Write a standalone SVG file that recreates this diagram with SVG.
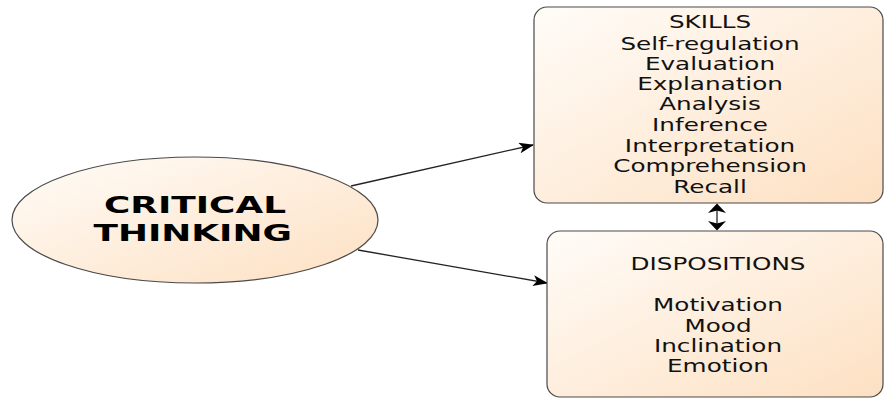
<svg xmlns="http://www.w3.org/2000/svg" width="884" height="398" viewBox="0 0 884 398">
  <defs>
    <linearGradient id="peach" x1="0" y1="0" x2="1" y2="1">
      <stop offset="0" stop-color="#fffcf8"/>
      <stop offset="1" stop-color="#fde0c2"/>
    </linearGradient>
    <marker id="head" viewBox="0 0 14 10" refX="13" refY="5" markerWidth="15" markerHeight="11" markerUnits="userSpaceOnUse" orient="auto-start-reverse">
      <path d="M0,0 L14,5 L0,10 L3.5,5 Z" fill="#000"/>
    </marker>
  </defs>
  <style>
    .shape { fill: url(#peach); stroke: #4a4a4a; stroke-width: 1.2; }
    .lbl { font-family: "DejaVu Sans", Verdana, sans-serif; font-size: 17.5px; fill: #111; text-anchor: middle; }
    .title { font-family: "DejaVu Sans", Verdana, sans-serif; font-weight: bold; font-size: 23px; fill: #000; text-anchor: middle; }
    .conn { stroke: #222; stroke-width: 1.3; fill: none; }
    .tip { fill: #000; }
  </style>

  <g id="connectors">
    <line class="conn" x1="351" y1="186" x2="533" y2="145" marker-end="url(#head)"/>
    <line class="conn" x1="358" y1="250" x2="547" y2="283" marker-end="url(#head)"/>
    <!-- two-way link between the boxes -->
    <line class="conn" x1="717" y1="208" x2="717" y2="226" stroke-width="2"/>
    <path class="tip" d="M717,203.5 L726,213 L717,210.5 L708,213 Z"/>
    <path class="tip" d="M717,230.5 L726,221 L717,223.5 L708,221 Z"/>
  </g>

  <g id="critical-thinking">
    <ellipse class="shape" cx="195" cy="220" rx="183" ry="63"/>
    <g transform="translate(195,0) scale(1.56,1)">
      <text class="title" x="0" y="213">CRITICAL</text>
      <text class="title" x="-1.5" y="241">THINKING</text>
    </g>
  </g>

  <g id="skills">
    <rect class="shape" x="534" y="7" width="349" height="196" rx="13"/>
    <g transform="translate(710,0) scale(1.41,1)">
      <text class="lbl" x="0" y="28">SKILLS</text>
      <text class="lbl" x="0" y="50">Self-regulation</text>
      <text class="lbl" x="0" y="70">Evaluation</text>
      <text class="lbl" x="0" y="90">Explanation</text>
      <text class="lbl" x="0" y="110">Analysis</text>
      <text class="lbl" x="0" y="131">Inference</text>
      <text class="lbl" x="0" y="152">Interpretation</text>
      <text class="lbl" x="0" y="172">Comprehension</text>
      <text class="lbl" x="0" y="193">Recall</text>
    </g>
  </g>

  <g id="dispositions">
    <rect class="shape" x="547" y="231" width="336" height="166" rx="13"/>
    <g transform="translate(718,0) scale(1.41,1)">
      <text class="lbl" x="0" y="270">DISPOSITIONS</text>
      <text class="lbl" x="0" y="311">Motivation</text>
      <text class="lbl" x="0" y="332">Mood</text>
      <text class="lbl" x="0" y="352">Inclination</text>
      <text class="lbl" x="0" y="372">Emotion</text>
    </g>
  </g>
</svg>
